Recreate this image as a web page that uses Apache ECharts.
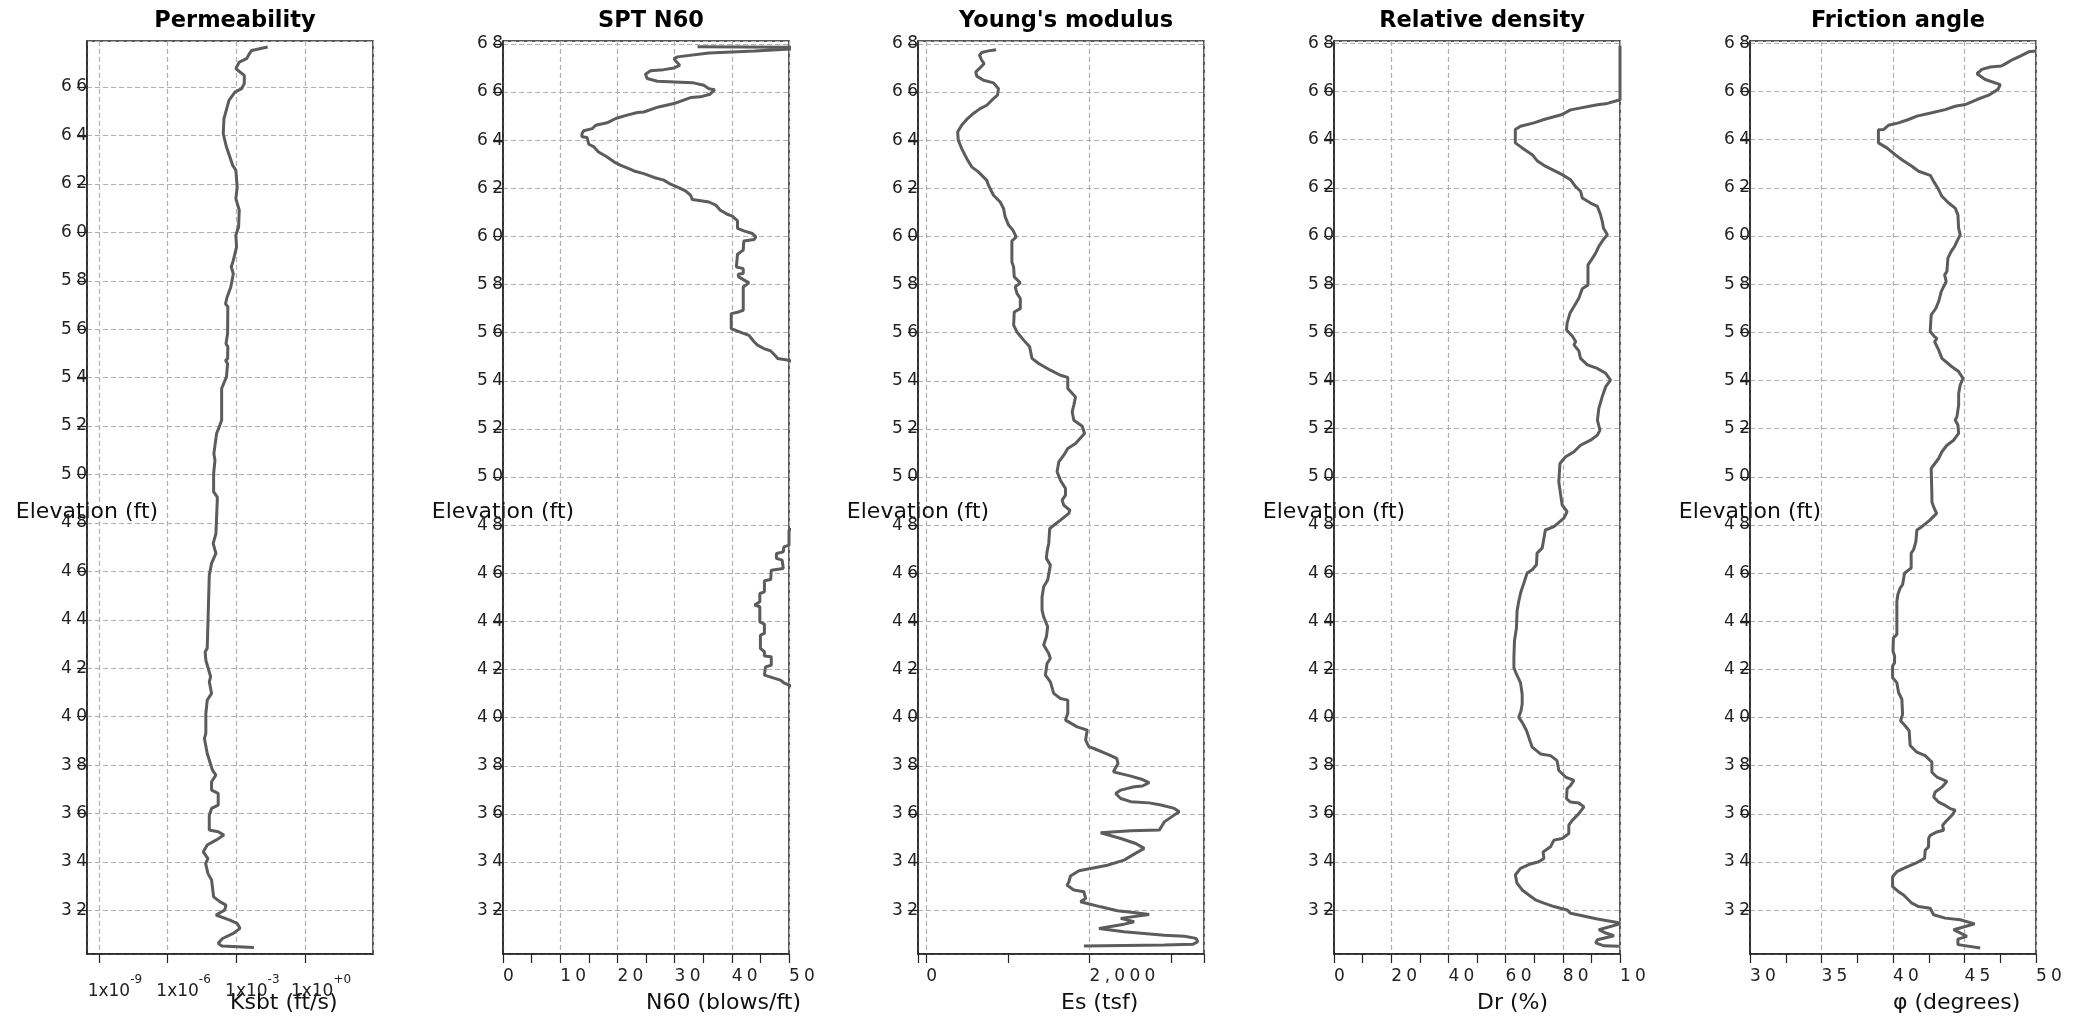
<!DOCTYPE html>
<html><head><meta charset="utf-8">
<script src="https://cdn.jsdelivr.net/npm/echarts@6/dist/echarts.min.js"></script>
<style>html,body{margin:0;padding:0;background:#fff}#c{width:2085px;height:1019px}</style>
</head><body><div id="c"></div>
<script>
// ---------------- data ----------------
const panelTitles = ['Permeability', 'SPT N60', "Young's modulus", 'Relative density', 'Friction angle'];
const xNames = ['Ksbt (ft/s)', 'N60 (blows/ft)', 'Es (tsf)', 'Dr (%)', 'φ (degrees)'];

// Permeability: elevation (ft) and log10 of Ksbt (ft/s) — the axis is a log-decade axis
const ksbtElev = [67.65,67.51,67.40,67.17,67.03,66.76,66.62,66.48,66.14,65.93,65.79,65.45,65.17,64.69,64.07,63.52,63.11,62.77,62.56,61.87,61.39,60.91,60.22,59.88,59.39,58.84,58.57,58.29,57.74,57.33,57.05,56.92,55.82,55.40,55.27,54.78,54.71,54.58,54.03,53.55,52.24,52.03,51.69,51.48,50.86,50.59,50.04,49.28,49.07,48.94,47.56,47.15,46.74,46.33,45.84,44.12,42.82,42.68,42.33,41.65,41.44,40.96,40.68,40.13,39.31,39.10,38.48,37.79,37.59,37.31,36.97,36.83,36.35,36.21,35.93,35.32,35.25,35.11,34.90,34.70,34.42,34.14,33.94,33.53,33.25,32.56,32.36,32.22,32.01,31.81,31.60,31.46,31.26,31.05,30.84,30.64,30.53,30.47];
const ksbtLog10 = [-1.63,-2.33,-2.41,-2.55,-2.87,-3.02,-2.84,-2.65,-2.65,-2.77,-3.06,-3.32,-3.40,-3.54,-3.57,-3.43,-3.28,-3.16,-3.02,-2.96,-3.02,-2.87,-2.90,-3.02,-2.99,-3.13,-3.22,-3.13,-3.24,-3.40,-3.47,-3.37,-3.38,-3.45,-3.37,-3.38,-3.47,-3.38,-3.43,-3.64,-3.64,-3.72,-3.86,-3.89,-3.98,-3.93,-3.99,-3.99,-3.83,-3.83,-3.89,-4.01,-3.89,-4.08,-4.18,-4.23,-4.27,-4.36,-4.33,-4.12,-4.18,-4.08,-4.27,-4.33,-4.33,-4.39,-4.27,-4.04,-3.89,-4.08,-4.08,-3.79,-3.79,-4.08,-4.18,-4.18,-3.79,-3.54,-3.89,-4.27,-4.44,-4.24,-4.34,-4.24,-4.08,-3.99,-3.72,-3.45,-3.51,-3.89,-3.28,-2.96,-2.84,-3.13,-3.60,-3.79,-3.63,-2.23];

const n60Elev = [67.88,67.86,67.78,67.70,67.62,67.46,67.39,67.29,67.11,67.04,67.00,66.93,66.88,66.74,66.56,66.45,66.39,66.28,66.14,66.10,65.91,65.80,65.77,65.52,65.38,65.17,65.15,65.04,64.90,64.72,64.62,64.48,64.39,64.27,64.14,64.11,63.83,63.72,63.51,63.30,63.10,62.96,62.82,62.72,62.61,62.45,62.34,62.17,62.03,61.89,61.71,61.53,61.50,61.43,61.30,61.09,60.92,60.84,60.65,60.33,60.23,60.12,59.98,59.87,59.81,59.43,59.26,58.73,58.66,58.46,58.43,58.32,58.07,57.90,56.93,56.86,56.79,56.17,55.99,55.89,55.62,55.48,55.34,55.24,55.02,54.93,54.86,54.70,54.00,52.00,50.00,48.30,47.79,47.17,47.10,46.89,46.82,46.62,46.55,46.20,46.13,45.74,45.69,45.23,45.16,44.82,44.68,44.61,43.98,43.89,43.50,43.43,42.88,42.74,42.56,42.53,42.18,42.11,41.77,41.56,41.45,41.35,41.00,39.00,37.00,35.00,33.00,31.00,30.50];
const n60Val = [34.0,55,55,44,36,30.5,29.9,30.2,30.9,31.0,29.9,28.1,25.8,24.9,25.2,27.0,33.1,35.1,36.0,37.0,36.2,34.5,32.8,29.9,27.2,24.6,23.5,21.7,19.7,18.2,16.2,15.6,14.1,13.8,13.8,14.7,15.0,15.9,16.7,18.2,19.4,20.5,22.0,22.9,24.6,26.4,28.1,29.3,30.7,31.9,32.8,33.1,34.0,36.0,37.2,38.0,39.2,40.1,41.0,41.0,42.1,43.6,44.2,43.9,42.1,42.0,41.0,40.8,42.0,42.0,41.1,41.2,43.0,42.0,42.0,41.2,39.9,39.9,41.8,43.0,43.9,44.5,45.6,46.8,47.7,48.0,49.7,52,58,66,62,55,50.0,50.0,49.1,49.0,47.8,47.8,48.8,49.0,46.9,46.8,45.7,45.7,44.9,44.9,44.0,44.9,44.9,45.7,45.7,45.0,45.0,45.7,45.7,46.9,46.9,45.9,45.7,48.5,49.1,50.0,54,62,70,75,68,80,72];

const esElev = [67.76,67.71,67.64,67.53,67.32,67.18,66.98,66.84,66.66,66.49,66.38,66.14,65.87,65.66,65.45,65.31,65.11,64.86,64.62,64.34,64.00,63.65,63.24,62.89,62.68,62.33,62.13,61.71,61.43,61.16,60.81,60.47,60.26,59.98,59.81,58.94,58.73,58.32,58.07,57.90,57.63,57.42,57.00,56.86,56.31,56.03,55.69,55.41,54.93,54.72,54.44,54.23,54.14,53.68,53.33,52.99,52.71,52.36,52.11,51.81,51.39,51.19,50.91,50.63,50.22,49.87,49.52,49.25,49.04,48.83,48.62,48.49,48.21,47.86,47.24,46.89,46.62,46.34,45.72,45.44,45.02,44.47,44.19,43.78,43.36,43.02,42.67,42.46,42.25,41.77,41.49,41.01,40.80,40.73,40.18,39.90,39.62,39.48,39.07,38.79,38.72,38.49,38.31,38.10,37.75,37.57,37.43,37.30,37.16,37.13,36.99,36.85,36.64,36.51,36.46,36.37,36.23,36.09,35.91,35.67,35.44,35.33,35.30,35.22,34.98,34.77,34.57,34.33,34.08,33.87,33.73,33.64,33.42,33.18,33.04,32.84,32.77,32.49,32.35,32.28,32.14,31.98,31.89,31.82,31.66,31.52,31.42,31.24,31.10,30.96,30.92,30.83,30.69,30.58,30.55,30.51];
const esVal = [856,762,680,652,680,709,652,607,619,701,824,885,873,803,742,660,578,496,434,385,393,434,496,557,639,742,762,824,906,947,967,1008,1061,1102,1049,1049,1070,1078,1152,1090,1111,1152,1152,1078,1070,1111,1193,1266,1295,1377,1520,1643,1733,1733,1828,1807,1787,1807,1910,1938,1828,1733,1684,1623,1602,1643,1705,1705,1664,1684,1758,1746,1643,1512,1500,1479,1471,1520,1487,1438,1418,1418,1438,1487,1471,1438,1500,1520,1479,1459,1520,1561,1643,1733,1733,1705,1848,1971,1951,1992,2053,2217,2332,2348,2291,2504,2647,2729,2647,2545,2381,2319,2381,2504,2729,2873,3037,3098,3016,2914,2873,2852,2504,2135,2381,2565,2668,2545,2422,2217,2012,1869,1766,1746,1725,1807,1930,1951,1889,1971,2135,2340,2565,2729,2381,2545,2422,2115,2422,2914,3160,3303,3323,3262,2914,1930];

const drElev = [67.90,65.66,65.49,65.45,65.24,65.05,64.84,64.70,64.56,64.42,63.87,63.66,63.38,63.13,62.90,62.76,62.55,62.34,62.06,61.86,61.58,61.37,61.23,60.88,60.61,60.33,60.05,59.89,59.57,59.29,59.01,58.80,57.97,57.81,57.42,57.07,56.79,56.38,56.10,55.85,55.62,55.48,55.23,54.92,54.65,54.50,54.30,54.02,53.74,53.33,52.84,52.35,51.94,51.73,51.52,51.31,51.04,50.83,50.55,49.79,49.30,48.82,48.55,48.28,47.93,47.79,47.45,47.04,46.83,46.35,46.14,46.00,45.59,45.24,44.83,44.42,43.73,43.18,42.49,42.07,41.80,41.45,40.97,40.56,40.28,40.01,39.80,39.46,39.18,38.77,38.49,38.42,38.21,37.80,37.53,37.39,37.18,37.04,36.63,36.49,36.45,36.29,36.01,35.73,35.53,35.18,34.98,34.91,34.63,34.42,34.15,34.01,33.92,33.74,33.46,33.12,32.84,32.63,32.43,32.29,32.15,32.01,31.87,31.81,31.63,31.49,31.43,31.19,31.05,30.94,30.77,30.64,30.52,30.50];
const drVal = [100,100,95.0,92.1,82.7,79.8,73.4,69.9,65.2,63.4,63.4,65.8,69.3,71.0,73.9,76.3,79.8,82.7,84.4,86.2,86.8,89.7,92.1,93.2,93.8,94.2,95.6,94.4,92.6,91.5,90.0,88.8,88.8,86.8,85.6,83.9,82.5,81.5,81.3,83.3,84.5,83.9,85.6,86.2,88.6,92.1,95.0,96.7,95.0,93.8,92.6,92.1,93.0,92.1,89.7,86.2,83.9,81.0,79.0,78.6,79.2,79.8,81.5,80.4,76.9,73.9,73.4,72.8,71.0,70.8,69.3,67.5,66.4,65.4,64.6,64.0,63.8,63.1,62.9,62.9,63.8,65.2,65.8,65.8,65.4,64.6,65.8,67.3,68.1,69.3,72.2,75.7,78.0,78.6,81.0,83.9,82.7,81.5,81.3,82.7,85.6,87.4,85.6,83.3,82.1,82.1,79.8,76.9,75.7,73.1,73.4,71.6,68.7,65.2,63.4,64.0,65.8,68.1,70.4,73.4,76.9,81.5,82.7,82.7,92.1,99.1,100,92.6,95.0,97.9,92.1,91.5,94.4,99.6];

const phiElev = [67.68,67.65,67.47,67.33,67.15,67.06,67.02,66.92,66.74,66.50,66.29,66.09,65.85,65.67,65.46,65.39,65.25,65.12,64.98,64.84,64.70,64.60,64.42,64.41,63.87,63.66,63.38,63.17,62.90,62.69,62.52,62.27,61.93,61.65,61.37,61.16,60.88,60.33,60.05,59.78,59.57,59.36,59.08,58.53,58.39,58.11,57.69,57.28,57.00,56.72,56.03,55.82,55.75,55.61,55.27,54.92,54.57,54.37,54.09,53.81,53.46,52.98,52.49,52.36,52.15,51.80,51.52,51.31,51.04,50.76,50.48,50.34,49.23,48.96,48.75,48.48,48.21,47.93,47.79,47.31,46.97,46.83,46.21,46.00,45.52,45.38,45.11,44.83,43.45,43.31,42.76,42.56,42.28,42.14,41.66,41.45,41.04,40.76,40.14,39.87,39.66,39.45,38.84,38.56,38.42,38.15,37.73,37.53,37.35,37.11,36.91,36.70,36.49,36.35,36.22,36.15,35.94,35.73,35.53,35.32,35.25,35.11,34.98,34.63,34.49,34.15,33.94,33.74,33.60,33.39,32.98,32.77,32.63,32.29,32.15,32.08,31.81,31.67,31.60,31.43,31.32,31.19,30.91,30.80,30.57,30.43];
const phiVal = [50.0,49.49,48.90,48.37,47.85,47.57,46.80,46.22,45.87,46.45,47.50,47.34,46.69,45.87,45.05,44.35,43.65,42.72,41.67,41.09,40.39,39.68,39.33,38.98,38.98,39.57,40.15,40.62,41.32,41.79,42.60,42.84,43.19,43.42,43.89,44.35,44.54,44.59,44.70,44.47,44.31,44.07,43.84,43.77,43.61,43.72,43.37,43.19,43.00,42.67,42.60,42.91,43.07,42.91,43.19,43.42,44.12,44.59,44.89,44.70,44.59,44.59,44.47,44.35,44.54,44.59,44.24,43.77,43.42,43.19,42.84,42.67,42.72,42.72,42.84,43.05,42.60,42.02,41.67,41.60,41.44,41.27,41.27,40.81,40.67,40.50,40.34,40.27,40.27,40.03,40.00,40.11,40.11,39.97,39.97,40.27,40.39,40.62,40.67,40.53,40.85,41.13,41.20,41.67,42.25,42.72,42.72,43.07,43.77,43.42,42.95,42.84,43.19,43.65,44.00,44.35,44.12,43.77,43.47,43.54,43.07,42.60,42.49,42.49,42.25,42.21,41.55,40.74,40.27,39.97,39.97,40.39,40.74,41.32,41.79,42.60,42.84,43.65,44.70,45.71,45.05,44.24,45.17,44.54,44.54,46.10];

// ---------------- chart ----------------
const FONT = 'DejaVu Sans';
const SP = '\u2005';
const spaced = s => String(s).split('').join(SP);
const gridLefts = [87, 503, 918, 1334, 1750];
const GRID_W = 286, GRID_TOP = 41, GRID_H = 913;
const LINE = '#5c5c5c';
const splitLine = {show: true, lineStyle: {color: '#b0b0b0', type: [5, 3], width: 1.2}};
const axisLine = {show: true, onZero: false, lineStyle: {color: '#222', width: 1.5}};
const tick = {show: true, length: 9, lineStyle: {color: '#222', width: 1.2}};

function yAxis(i, min, max) {
  return {
    type: 'value', gridIndex: i, min: min, max: max, splitNumber: 19,
    name: 'Elevation (ft)', nameLocation: 'middle', nameRotate: 0, nameGap: 0, nameMoveOverlap: false,
    nameTextStyle: {fontFamily: FONT, fontSize: 22, color: '#111', align: 'center', verticalAlign: 'top', padding: [4, 0, 0, 0]},
    axisLine: axisLine,
    axisTick: {show: true, length: 10, lineStyle: {color: '#222', width: 1.2}},
    axisLabel: {margin: 0, fontFamily: FONT, fontSize: 17, color: '#222', showMinLabel: false, showMaxLabel: false,
      formatter: v => spaced(v)},
    splitLine: splitLine
  };
}

function xAxis(i, extra) {
  const base = {
    type: 'value', gridIndex: i, position: 'bottom',
    name: xNames[i], nameLocation: 'middle', nameGap: 49, nameMoveOverlap: false,
    nameTextStyle: {fontFamily: FONT, fontSize: 22, color: '#111', align: 'left', verticalAlign: 'middle'},
    axisLine: axisLine, axisTick: tick,
    minorTick: {show: true, splitNumber: 2, length: 9, lineStyle: {color: '#222', width: 1.2}},
    minorSplitLine: {show: false},
    axisLabel: {margin: 14, fontFamily: FONT, fontSize: 17, color: '#222', align: 'left',
      formatter: v => spaced(v)},
    splitLine: splitLine
  };
  const out = Object.assign({}, base, extra);
  if (extra.axisLabel) out.axisLabel = Object.assign({}, base.axisLabel, extra.axisLabel);
  return out;
}

function pairs(vals, elev) { return elev.map((e, k) => [vals[k], e]); }

const xAxes = [
  // decades of Ksbt: labels 1x10^n every 3 decades
  xAxis(0, {min: -9.52, max: 2.97, splitNumber: 4,
    minorTick: {show: false},
    axisLabel: {margin: 20, align: 'center', padding: [0, 0, 0, 32], showMinLabel: false, showMaxLabel: false,
      formatter: v => '{m|1x10}{s|' + (v < 0 ? '-' + (-v) : '+' + v) + '}',
      rich: {
        m: {fontFamily: FONT, fontSize: 17, color: '#222', verticalAlign: 'bottom', lineHeight: 26},
        s: {fontFamily: FONT, fontSize: 12, color: '#222', verticalAlign: 'top', lineHeight: 14}
      }}}),
  xAxis(1, {min: 0, max: 50, interval: 10}),
  xAxis(2, {min: -100, max: 3400, splitNumber: 2,
    axisLabel: {showMinLabel: false, showMaxLabel: false, formatter: v => spaced(v.toLocaleString('en-US'))}}),
  xAxis(3, {min: 0, max: 100, interval: 20,
    axisLabel: {width: 34, overflow: 'truncate', ellipsis: ''}}),
  xAxis(4, {min: 30, max: 50, interval: 5})
];

const yAxes = [yAxis(0, 30.2, 67.9), yAxis(1, 30.18, 68.12), yAxis(2, 30.18, 68.12), yAxis(3, 30.18, 68.1), yAxis(4, 30.18, 68.1)];

const seriesData = [pairs(ksbtLog10, ksbtElev), pairs(n60Val, n60Elev), pairs(esVal, esElev), pairs(drVal, drElev), pairs(phiVal, phiElev)];

const option = {
  backgroundColor: '#fff',
  animation: false,
  title: panelTitles.map((t, i) => ({
    text: t, left: gridLefts[i] + GRID_W / 2, top: 5, textAlign: 'center',
    textStyle: {fontFamily: FONT, fontSize: 22.5, fontWeight: 'bold', color: '#000'}
  })),
  grid: gridLefts.map(l => ({left: l, top: GRID_TOP, width: GRID_W, height: GRID_H, show: true,
    borderColor: '#222', borderWidth: 1.5, backgroundColor: 'transparent', containLabel: false, outerBoundsMode: 'none'})),
  xAxis: xAxes,
  yAxis: yAxes,
  series: seriesData.map((d, i) => ({
    type: 'line', xAxisIndex: i, yAxisIndex: i, data: d, showSymbol: false, symbol: 'none',
    clip: true, lineStyle: {color: LINE, width: 3}, emphasis: {disabled: true}
  }))
};

const chart = echarts.init(document.getElementById('c'), null, {renderer: 'canvas'});
chart.setOption(option);
</script></body></html>
